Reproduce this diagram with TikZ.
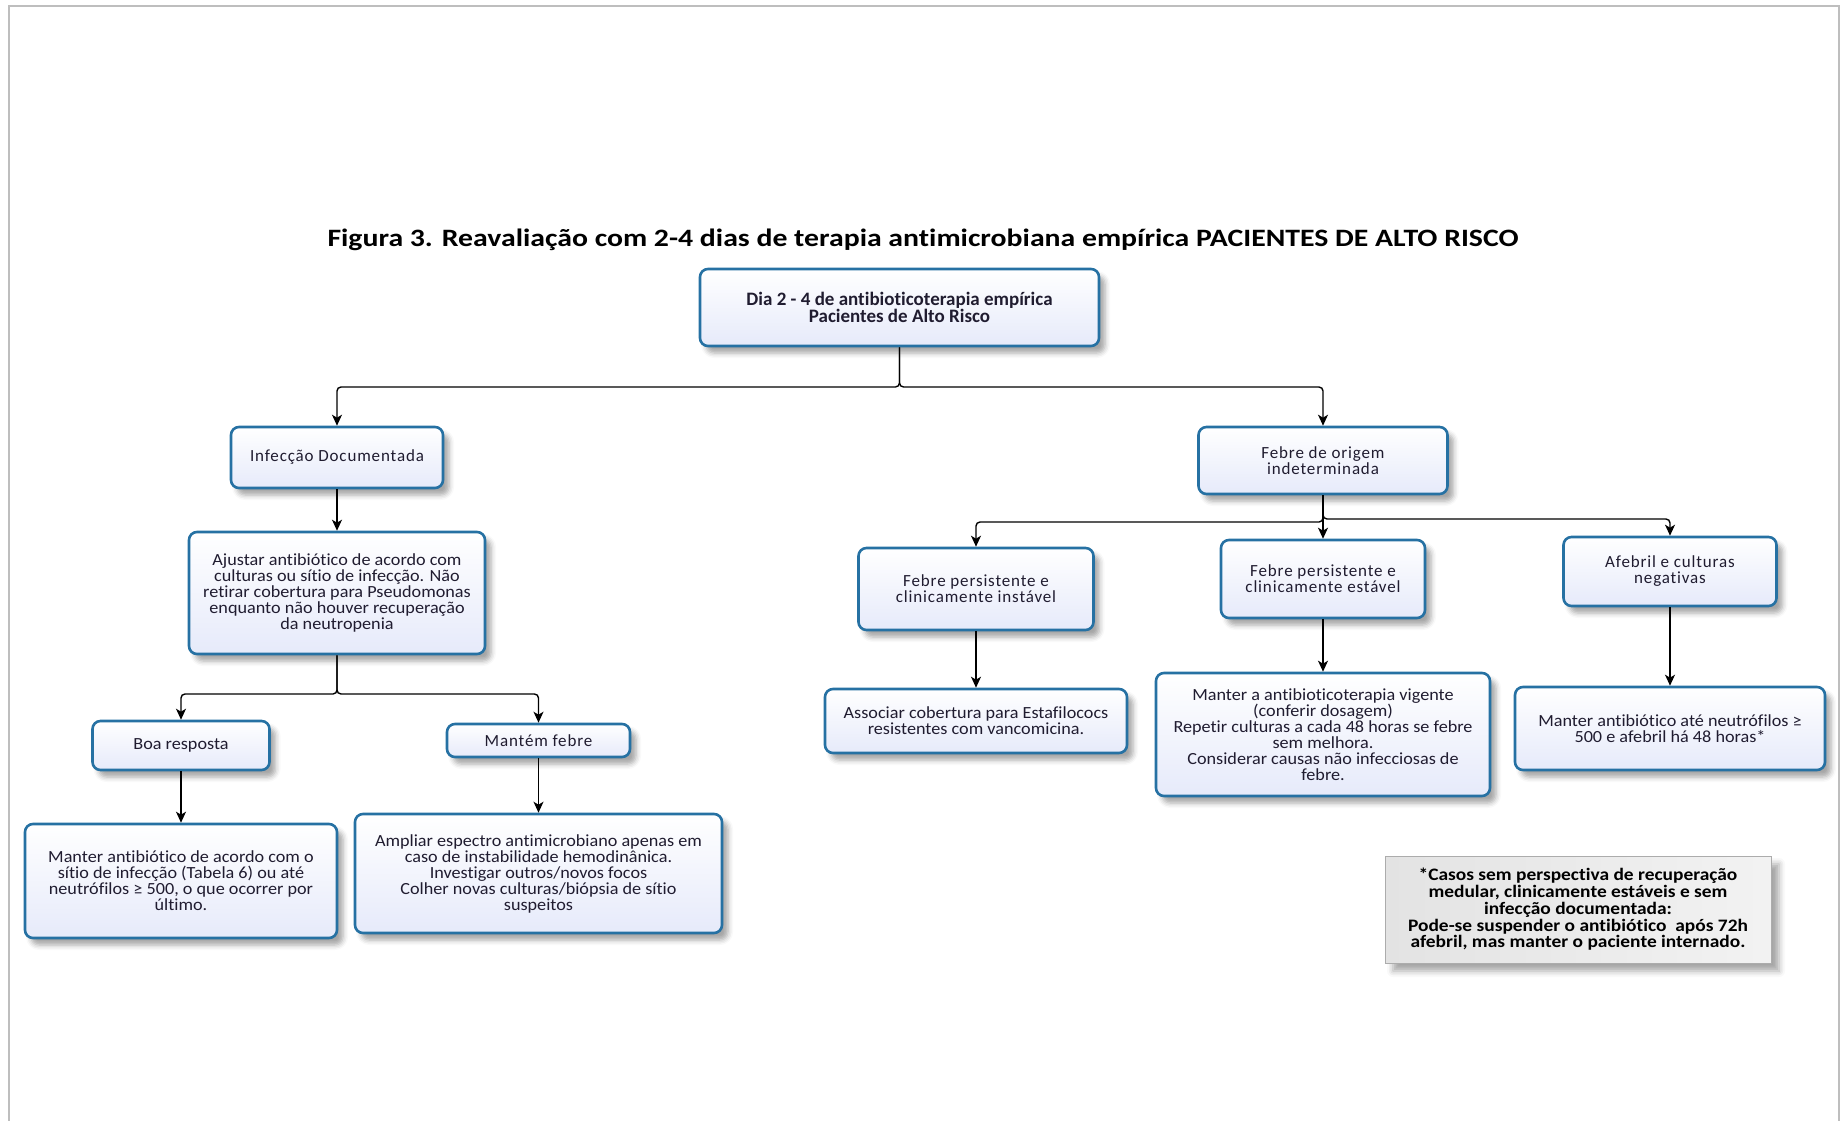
\documentclass[tikz,border=0pt]{standalone}
\usepackage{fontspec}
\setmainfont{Carlito}[Ligatures=NoCommon]
\usetikzlibrary{arrows.meta,shadows.blur}

\definecolor{boxline}{RGB}{38,113,163}
\definecolor{boxfill}{RGB}{230,234,250}
\definecolor{txt}{RGB}{32,28,48}
\definecolor{pageline}{RGB}{190,190,190}

\newcommand{\boxsize}{\fontsize{17}{16}\selectfont\addfontfeature{FakeStretch=1.07}}
\newcommand{\widesize}{\fontsize{17}{16}\selectfont\addfontfeature{LetterSpace=5}}

\tikzset{
  flowbox/.style={draw=boxline, line width=2.6pt, rounded corners=8pt,
    top color=white, bottom color=boxfill, text=txt, align=center,
    font=\boxsize, inner sep=0pt,
    blur shadow={shadow xshift=6pt, shadow yshift=-7pt,
      shadow blur radius=5pt, shadow opacity=35}},
  widebox/.style={flowbox, font=\widesize},
  notebox/.style={draw=gray!65, line width=1pt, left color=gray!22,
    right color=gray!10, text=black, align=center, inner sep=0pt,
    font=\fontsize{17.5}{16.7}\selectfont\bfseries\addfontfeature{FakeStretch=1.11},
    blur shadow={shadow xshift=8pt, shadow yshift=-8pt,
      shadow blur radius=6pt, shadow opacity=35}},
  link/.style={draw=black, line width=1.4pt, rounded corners=4pt,
    -{Stealth[length=11pt,width=10pt,inset=3pt]}},
}

\begin{document}
\begin{tikzpicture}[x=1pt,y=-1pt]
\useasboundingbox (0,0) rectangle (1841,1121);

% page frame
\draw[pageline, line width=2.5pt] (9,1121) -- (9,6) -- (1839,6) -- (1839,1121);

% title
\node[font=\fontsize{25}{28}\selectfont\bfseries\addfontfeature{FakeStretch=1.19}, text=black] (title) at (923,240)
  {Figura 3. Reavaliação com 2-4 dias de terapia antimicrobiana empírica PACIENTES DE ALTO RISCO};

% boxes
\node[flowbox, font=\fontsize{19}{16.5}\selectfont\bfseries, minimum width=399pt, minimum height=77pt] (top) at (899.5,307.5)
  {Dia 2 - 4 de antibioticoterapia empírica\\Pacientes de Alto Risco};

\node[widebox, minimum width=212pt, minimum height=61pt] (infec) at (337,457.5)
  {Infecção Documentada};
\node[flowbox, minimum width=296pt, minimum height=122pt] (ajustar) at (337,593)
  {Ajustar antibiótico de acordo com\\culturas ou sítio de infecção. Não\\retirar cobertura para Pseudomonas\\enquanto não houver recuperação\\da neutropenia};
\node[flowbox, minimum width=177pt, minimum height=49pt] (boa) at (181,745.5)
  {Boa resposta};
\node[widebox, minimum width=183pt, minimum height=33pt] (mantem) at (538.5,740.5)
  {Mantém febre};
\node[flowbox, minimum width=312pt, minimum height=114pt] (manterL) at (181,881)
  {Manter antibiótico de acordo com o\\sítio de infecção (Tabela 6) ou até\\neutrófilos ≥ 500, o que ocorrer por\\último.};
\node[flowbox, minimum width=367pt, minimum height=119pt] (ampliar) at (538.5,873.5)
  {Ampliar espectro antimicrobiano apenas em\\caso de instabilidade hemodinânica.\\Investigar outros/novos focos\\Colher novas culturas/biópsia de sítio\\suspeitos};

\node[widebox, minimum width=249pt, minimum height=67pt] (origem) at (1323,460.5)
  {Febre de origem\\indeterminada};
\node[widebox, minimum width=235pt, minimum height=82pt] (instavel) at (976,589)
  {Febre persistente e\\clinicamente instável};
\node[widebox, minimum width=204pt, minimum height=78pt] (estavel) at (1323,579)
  {Febre persistente e\\clinicamente estável};
\node[widebox, minimum width=213pt, minimum height=69pt] (afebril) at (1670,571.5)
  {Afebril e culturas\\negativas};
\node[flowbox, minimum width=302pt, minimum height=64pt] (associar) at (976,721)
  {Associar cobertura para Estafilococs\\resistentes com vancomicina.};
\node[flowbox, minimum width=334pt, minimum height=123pt] (vigente) at (1323,734.5)
  {Manter a antibioticoterapia vigente\\(conferir dosagem)\\Repetir culturas a cada 48 horas se febre\\sem melhora.\\Considerar causas não infecciosas de\\febre.};
\node[flowbox, minimum width=310pt, minimum height=83pt] (ate) at (1670,728.5)
  {Manter antibiótico até neutrófilos ≥\\500 e afebril há 48 horas*};

\node[notebox, minimum width=386pt, minimum height=107pt] (nota) at (1578,909.5)
  {*Casos sem perspectiva de recuperação\\medular, clinicamente estáveis e sem\\infecção documentada:\\Pode-se suspender o antibiótico \ após 72h\\afebril, mas manter o paciente internado.};

% junction points
\coordinate (j1) at (899.5,387);
\coordinate (j2) at (337,694);
\coordinate (j3) at (1323,522);
\coordinate (j4) at (1323,519);

% connectors
\draw[link] (top.south) -- (j1) -| (infec.north);
\draw[link] (top.south) -- (j1) -| (origem.north);
\draw[link] (infec.south) -- (ajustar.north);
\draw[link] (ajustar.south) -- (j2) -| (boa.north);
\draw[link] (ajustar.south) -- (j2) -| (mantem.north);
\draw[link] (boa.south) -- (manterL.north);
\draw[link] (mantem.south) -- (ampliar.north);
\draw[link] (origem.south) -- (j3) -| (instavel.north);
\draw[link] (origem.south) -- (estavel.north);
\draw[link] (origem.south) -- (j4) -| (afebril.north);
\draw[link] (instavel.south) -- (associar.north);
\draw[link] (estavel.south) -- (vigente.north);
\draw[link] (afebril.south) -- (ate.north);
\end{tikzpicture}
\end{document}
